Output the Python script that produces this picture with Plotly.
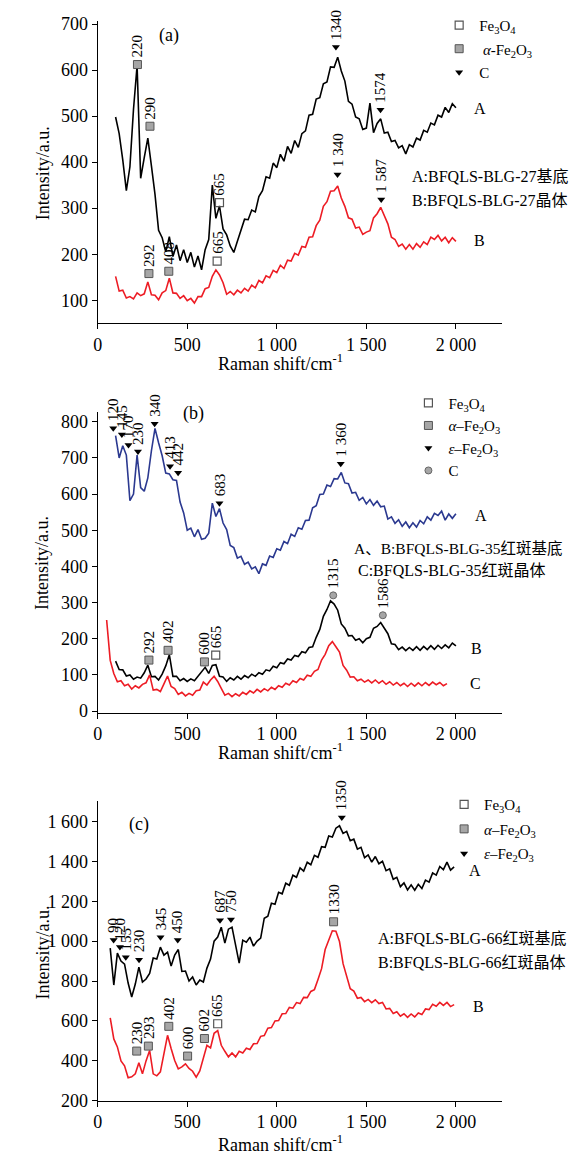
import plotly.graph_objects as go

FONT = "Liberation Serif, Noto Sans CJK SC, serif"
BLACK = "#000000"
RED = "#ed1c24"
BLUE = "#2b3990"

# ---------------- Panel (a) ----------------
XA = list(range(100, 2001, 20))
A_A = [498, 462, 405, 338, 390, 515, 610, 365, 410, 452, 392, 330, 252, 236, 205, 238,
       195, 220, 186, 210, 182, 204, 172, 196, 166, 210, 232, 350, 278, 305, 255, 242,
       218, 204, 228, 250, 276, 275, 296, 292, 325, 338, 368, 365, 398, 388, 417, 402,
       434, 419, 447, 432, 462, 468, 502, 504, 537, 540, 570, 574, 607, 606, 628, 598,
       576, 532, 526, 498, 494, 471, 474, 528, 464, 484, 494, 463, 465, 445, 447, 431,
       436, 418, 438, 433, 452, 448, 469, 465, 485, 481, 502, 498, 519, 508, 527, 518]
A_B = [152, 120, 122, 105, 108, 103, 116, 110, 114, 140, 112, 111, 101, 116, 121, 148,
       116, 115, 104, 110, 99, 104, 94, 108, 108, 125, 128, 152, 166, 155, 138, 113,
       119, 112, 122, 116, 126, 120, 133, 127, 143, 138, 153, 149, 165, 160, 176, 169,
       187, 185, 202, 198, 217, 215, 237, 238, 262, 274, 304, 314, 337, 338, 348, 322,
       304, 279, 276, 257, 259, 243, 248, 251, 279, 288, 302, 285, 266, 237, 232, 217,
       222, 211, 221, 211, 223, 215, 227, 221, 237, 232, 241, 229, 237, 225, 236, 228]

# peak markers (kind: m = Fe3O4, a = alpha-Fe2O3, e = epsilon-Fe2O3 / C triangle, c = C circle)
PA_KIND = ["a", "a", "m", "e", "e", "a", "a", "m", "e", "e"]
PA_X = [222, 292, 680, 1330, 1579, 286, 397, 667, 1339, 1583]
PA_Y = [612, 478, 312, 650, 514, 158, 163, 185, 373, 319]
PA_T = ["220", "290", "665", "1340", "1574", "292", "408", "665", "1 340", "1 587"]

# ---------------- Panel (b) ----------------
XB = list(range(100, 2001, 20))
B_A = [762, 700, 734, 708, 582, 600, 708, 618, 608, 645, 720, 782, 742, 706, 658, 656,
       640, 638, 578, 548, 500, 506, 482, 502, 475, 478, 492, 575, 538, 560, 520, 502,
       458, 452, 423, 428, 406, 412, 393, 399, 380, 407, 403, 429, 425, 449, 445, 469,
       463, 489, 483, 507, 503, 527, 528, 562, 568, 599, 600, 625, 621, 643, 642, 660,
       631, 629, 603, 605, 583, 591, 573, 585, 569, 581, 565, 567, 531, 537, 519, 529,
       511, 523, 507, 521, 509, 527, 518, 537, 528, 547, 541, 553, 528, 545, 533, 546]
B_B = [138, 115, 114, 97, 100, 88, 94, 91, 106, 127, 95, 96, 86, 102, 125, 156,
       96, 96, 84, 90, 82, 89, 84, 96, 106, 121, 104, 126, 128, 96, 94, 82,
       92, 86, 96, 88, 98, 92, 102, 96, 106, 102, 114, 111, 124, 120, 134, 131,
       144, 141, 154, 151, 164, 161, 176, 178, 204, 226, 262, 281, 305, 296, 279, 241,
       229, 208, 209, 196, 200, 189, 200, 204, 229, 234, 245, 228, 214, 186, 184, 170,
       177, 167, 176, 168, 178, 168, 179, 170, 181, 171, 182, 173, 183, 175, 188, 180]
XB_C = list(range(50, 1951, 20))
B_C = [252, 140, 104, 81, 84, 70, 74, 61, 70, 64, 74, 78, 100, 58, 60, 54,
       75, 97, 68, 62, 46, 52, 42, 49, 44, 56, 58, 80, 72, 86, 96, 82,
       63, 44, 49, 40, 48, 42, 52, 46, 56, 50, 60, 53, 62, 56, 66, 60,
       70, 66, 77, 72, 84, 79, 90, 86, 99, 96, 110, 115, 141, 157, 181, 192,
       178, 163, 126, 113, 94, 95, 84, 88, 80, 86, 78, 86, 77, 84, 74, 81,
       72, 79, 70, 77, 68, 77, 69, 78, 70, 79, 71, 80, 73, 79, 70, 76]

PB_KIND = ["e"] * 9 + ["a", "a", "a", "m", "c", "c"]
PB_X = [87, 135, 172, 225, 318, 404, 449, 680, 1357, 286, 393, 596, 659, 1315, 1592]
PB_Y = [782, 765, 736, 718, 795, 677, 659, 575, 684, 141, 168, 136, 155, 320, 265]
PB_T = ["120", "145", "170", "230", "340", "413", "442", "683", "1 360",
        "292", "402", "600", "665", "1315", "1586"]

# ---------------- Panel (c) ----------------
XC = list(range(70, 1991, 20))
C_A = [965, 780, 940, 900, 885, 790, 720, 785, 870, 795, 810, 838, 915, 910, 970, 930,
       945, 875, 930, 958, 848, 850, 800, 820, 780, 805, 795, 865, 910, 1000, 1020, 1070,
       990, 1060, 1070, 980, 890, 1005, 995, 1020, 975, 1000, 1015, 1115, 1125, 1190, 1185, 1245,
       1237, 1290, 1280, 1330, 1320, 1367, 1351, 1395, 1383, 1430, 1420, 1473, 1470, 1527, 1522, 1566,
       1578, 1540, 1550, 1503, 1511, 1461, 1470, 1418, 1432, 1396, 1424, 1388, 1400, 1353, 1362, 1310,
       1320, 1273, 1292, 1257, 1282, 1255, 1285, 1264, 1306, 1296, 1342, 1331, 1374, 1358, 1396, 1356,
       1372]
C_B = [615, 510, 470, 400, 375, 315, 320, 335, 390, 335, 400, 452, 335, 325, 345, 438,
       528, 462, 402, 360, 370, 385, 362, 348, 318, 350, 415, 478, 465, 538, 552, 478,
       448, 420, 440, 420, 448, 440, 463, 457, 486, 487, 523, 527, 564, 567, 600, 602,
       636, 637, 668, 664, 692, 687, 718, 717, 748, 757, 808, 862, 958, 1002, 1052, 1050,
       998, 887, 823, 762, 750, 714, 718, 697, 708, 692, 706, 687, 693, 660, 663, 637,
       646, 624, 636, 618, 635, 620, 640, 632, 660, 657, 683, 674, 693, 678, 693, 672,
       682]

PC_KIND = ["e"] * 9 + ["a", "a", "a", "a", "a", "m", "a"]
PC_X = [89, 124, 157, 231, 351, 447, 683, 744, 1363, 218, 283, 397, 502, 596, 670, 1317]
PC_Y = [1006, 970, 919, 907, 1020, 1006, 1105, 1109, 1620, 449, 474, 573, 424, 512, 586, 1097]
PC_T = ["90", "120", "155", "230", "345", "450", "687", "750", "1350",
        "230", "293", "402", "600", "602", "665", "1330"]

X_TICKS = [0, 500, 1000, 1500, 2000]
X_TICKTEXT = ["0", "500", "1 000", "1 500", "2 000"]
YA_TICKS = [100, 200, 300, 400, 500, 600, 700]
YB_TICKS = [0, 100, 200, 300, 400, 500, 600, 700, 800]
YC_TICKS = [200, 400, 600, 800, 1000, 1200, 1400, 1600]
YC_TICKTEXT = ["200", "400", "600", "800", "1 000", "1 200", "1 400", "1 600"]

assert len(XA) == len(A_A) == len(A_B)
assert len(XB) == len(B_A) == len(B_B)
assert len(XB_C) == len(B_C)
assert len(XC) == len(C_A) == len(C_B)

W, H = 569, 1167
def py(p):
    return 1 - p / H
def px(p):
    return p / W

X_DOM = [px(93.5), px(501)]
DOM_A = [py(321.7), py(15)]
DOM_B = [py(716.7), py(411.7)]
DOM_C = [py(1110), py(805.7)]

MSTYLE = {
    "m": dict(symbol="square-open", size=8, color="#555555", line=dict(width=1.2, color="#555555")),
    "a": dict(symbol="square", size=8, color="#a6a6a6", line=dict(width=1, color="#555555")),
    "e": dict(symbol="triangle-down", size=7, color="#000000", line=dict(width=0)),
    "c": dict(symbol="circle", size=7, color="#a6a6a6", line=dict(width=1, color="#666666")),
}

fig = go.Figure()

def line(x, y, color, xa, ya):
    fig.add_trace(go.Scatter(x=x, y=y, mode="lines", line=dict(color=color, width=1.6),
                             xaxis=xa, yaxis=ya, showlegend=False, hoverinfo="skip"))

line(XA, A_A, BLACK, "x", "y")
line(XA, A_B, RED, "x", "y")
line(XB, B_A, BLUE, "x2", "y2")
line(XB, B_B, BLACK, "x2", "y2")
line(XB_C, B_C, RED, "x2", "y2")
line(XC, C_A, BLACK, "x3", "y3")
line(XC, C_B, RED, "x3", "y3")

annotations = []

def peaks(kinds, xs, ys, texts, xa, ya, legend, order, names):
    for k in order:
        sx = [x for x, kk in zip(xs, kinds) if kk == k]
        sy = [y for y, kk in zip(ys, kinds) if kk == k]
        fig.add_trace(go.Scatter(x=sx, y=sy, mode="markers", marker=MSTYLE[k],
                                 xaxis=xa, yaxis=ya, name=names[k], legend=legend,
                                 legendgroup=legend + k, showlegend=True, hoverinfo="skip"))
    for x, y, t in zip(xs, ys, texts):
        annotations.append(dict(x=x, y=y, xref=xa, yref=ya, text=t, showarrow=False,
                                textangle=-90, xanchor="center", yanchor="bottom", yshift=5,
                                font=dict(size=15, family=FONT, color="black")))

FE3O4 = "Fe<sub>3</sub>O<sub>4</sub>"
peaks(PA_KIND, PA_X, PA_Y, PA_T, "x", "y", "legend", ["m", "a", "e"],
      {"m": FE3O4, "a": " <i>α</i>-Fe<sub>2</sub>O<sub>3</sub>", "e": "C"})
peaks(PB_KIND, PB_X, PB_Y, PB_T, "x2", "y2", "legend2", ["m", "a", "e", "c"],
      {"m": FE3O4, "a": "<i>α</i>–Fe<sub>2</sub>O<sub>3</sub>",
       "e": "<i>ε</i>–Fe<sub>2</sub>O<sub>3</sub>", "c": "C"})
peaks(PC_KIND, PC_X, PC_Y, PC_T, "x3", "y3", "legend3", ["m", "a", "e"],
      {"m": FE3O4, "a": "<i>α</i>–Fe<sub>2</sub>O<sub>3</sub>",
       "e": "<i>ε</i>–Fe<sub>2</sub>O<sub>3</sub>"})

def txt(x, y, t, size=16, xanchor="left", angle=0):
    annotations.append(dict(x=px(x), y=py(y), xref="paper", yref="paper", text=t,
                            showarrow=False, xanchor=xanchor, yanchor="middle",
                            textangle=angle, font=dict(size=size, family=FONT, color="black")))

# panel labels
txt(165, 30, "(a)", 18, "center")
txt(190, 413, "(b)", 18, "center")
txt(135, 830, "(c)", 18, "center")
# curve labels
for (x, y, t) in [(479, 104, "A"), (479, 238, "B"), (480, 517, "A"), (476, 651, "B"),
                  (475, 687, "C"), (474, 877, "A"), (478, 1014, "B")]:
    txt(x, y, t, 16, "center")
# sample descriptions
txt(409, 173, "A:BFQLS-BLG-27基底")
txt(409, 197, "B:BFQLS-BLG-27晶体")
txt(350, 550, "A、B:BFQLS-BLG-35红斑基底", 15.5)
txt(354, 572, "C:BFQLS-BLG-35红斑晶体")
txt(374, 945, "A:BFQLS-BLG-66红斑基底")
txt(374, 970, "B:BFQLS-BLG-66红斑晶体")
# axis titles
for yc in (170, 565, 960):
    txt(38, yc, "Intensity/a.u.", 18, "center", -90)
for yc in (361, 756, 1153):
    txt(278, yc, "Raman shift/cm<sup>-1</sup>", 18, "center")

AX = dict(showline=True, linecolor="black", linewidth=1, ticks="outside", ticklen=5,
          tickcolor="black", showgrid=False, zeroline=False,
          tickfont=dict(size=18, family=FONT, color="black"))

def xax(anchor):
    return dict(AX, domain=X_DOM, range=[0, 2255], anchor=anchor,
                tickvals=X_TICKS, ticktext=X_TICKTEXT)

LEG = dict(font=dict(size=15, family=FONT, color="black"), bgcolor="rgba(0,0,0,0)",
           traceorder="grouped", itemsizing="trace", xanchor="left", yanchor="top")

fig.update_layout(
    width=W, height=H, margin=dict(l=0, r=0, t=0, b=0),
    paper_bgcolor="white", plot_bgcolor="white",
    xaxis=xax("y"),
    yaxis=dict(AX, domain=DOM_A, range=[50, 707], anchor="x", tickvals=YA_TICKS),
    xaxis2=xax("y2"),
    yaxis2=dict(AX, domain=DOM_B, range=[-5, 827], anchor="x2", tickvals=YB_TICKS),
    xaxis3=xax("y3"),
    yaxis3=dict(AX, domain=DOM_C, range=[200, 1704], anchor="x3", tickvals=YC_TICKS,
                ticktext=YC_TICKTEXT),
    legend=dict(LEG, x=px(438), y=py(3), tracegroupgap=1),
    legend2=dict(LEG, x=px(407), y=py(386), tracegroupgap=0),
    legend3=dict(LEG, x=px(443), y=py(793), tracegroupgap=2),
    annotations=annotations,
    showlegend=True,
)

fig.write_html("out.html")
